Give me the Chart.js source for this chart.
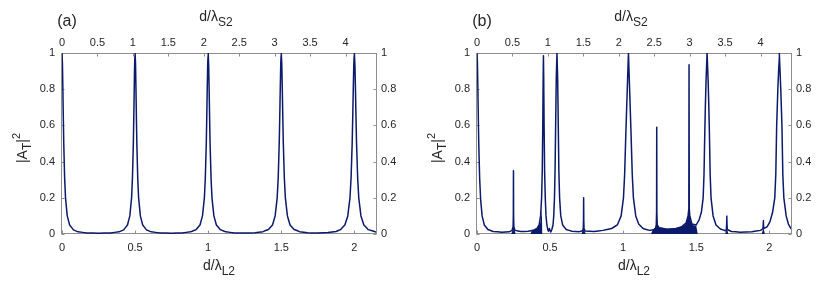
<!DOCTYPE html>
<html><head><meta charset="utf-8">
<script src="https://cdn.jsdelivr.net/npm/chart.js@4"></script>
<style>
html,body{margin:0;padding:0;background:#fff;}
#wrap{position:relative;width:830px;height:288px;overflow:hidden;}
.p{position:absolute;top:0;width:415px;height:288px;}
canvas{display:block;}
</style></head><body>
<div id="wrap">
<div class="p" style="left:0"><canvas id="ca" width="415" height="288"></canvas></div>
<div class="p" style="left:415px"><canvas id="cb" width="415" height="288"></canvas></div>
</div>
<script>
// ---- tick values / labels ----
const xTicksL2 = [0, 0.5, 1, 1.5, 2];
const xLabelsL2 = ['0', '0.5', '1', '1.5', '2'];
const xTicksS2 = [0, 0.5, 1, 1.5, 2, 2.5, 3, 3.5, 4];
const xLabelsS2 = ['0', '0.5', '1', '1.5', '2', '2.5', '3', '3.5', '4'];
const yTicks = [0, 0.2, 0.4, 0.6, 0.8, 1];
const yLabels = ['0', '0.2', '0.4', '0.6', '0.8', '1'];
const xMaxL2 = 2.148;
const xMaxS2 = 4.43;
const panelLabels = ['(a)', '(b)'];

// ---- panel (a): |A_T|^2 vs d/lambda_L2 ----
const curveA = [
[0,1],[0.003,0.94],[0.006,0.8],[0.009,0.64],[0.012,0.5],[0.018,0.31],[0.024,0.2],[0.036,0.1],[0.052,0.05],[0.078,0.023],[0.11,0.012],[0.17,0.006],[0.25,0.004],
[0.33,0.006],[0.39,0.012],[0.422,0.023],[0.448,0.05],[0.464,0.1],[0.476,0.2],[0.482,0.31],[0.488,0.5],[0.491,0.64],[0.494,0.8],[0.497,0.94],[0.5,1],
[0.503,0.94],[0.506,0.8],[0.509,0.64],[0.512,0.5],[0.518,0.31],[0.524,0.2],[0.536,0.1],[0.552,0.05],[0.578,0.023],[0.61,0.012],[0.67,0.006],[0.75,0.004],
[0.82,0.006],[0.88,0.012],[0.917,0.024],[0.944,0.05],[0.961,0.1],[0.974,0.2],[0.98,0.3],[0.987,0.5],[0.99,0.63],[0.9935,0.8],[0.9965,0.93],[1.0,1],
[1.0035,0.93],[1.0065,0.8],[1.01,0.63],[1.013,0.5],[1.02,0.3],[1.026,0.2],[1.039,0.1],[1.056,0.05],[1.083,0.024],[1.12,0.012],[1.18,0.006],[1.25,0.005],
[1.32,0.007],[1.375,0.013],[1.412,0.025],[1.44,0.05],[1.458,0.1],[1.472,0.2],[1.479,0.31],[1.486,0.5],[1.4895,0.64],[1.493,0.8],[1.4965,0.94],[1.5,1],
[1.5035,0.94],[1.507,0.8],[1.5105,0.64],[1.514,0.5],[1.521,0.31],[1.528,0.2],[1.542,0.1],[1.56,0.05],[1.588,0.025],[1.625,0.013],[1.68,0.007],[1.75,0.005],
[1.82,0.008],[1.875,0.014],[1.905,0.024],[1.935,0.05],[1.955,0.1],[1.97,0.2],[1.9775,0.31],[1.985,0.5],[1.989,0.65],[1.9925,0.8],[1.996,0.93],[2.0,1],
[2.004,0.93],[2.0075,0.8],[2.011,0.65],[2.015,0.5],[2.0225,0.31],[2.03,0.2],[2.045,0.1],[2.065,0.05],[2.095,0.024],[2.148,0.011]
];

// ---- panel (b): main curve ----
const curveB = [
[0,1],[0.003,0.94],[0.006,0.8],[0.009,0.64],[0.012,0.5],[0.018,0.31],[0.025,0.19],[0.035,0.1],[0.05,0.05],[0.075,0.025],[0.11,0.014],[0.17,0.01],[0.22,0.012],
[0.24,0.02],[0.247,0.04],[0.2485,0.1],[0.2495,0.35],[0.2505,0.1],[0.252,0.04],[0.26,0.02],[0.3,0.014],[0.35,0.015],[0.39,0.022],[0.41,0.03],[0.425,0.05],
[0.435,0.1],[0.442,0.2],[0.4465,0.35],[0.45,0.6],[0.4525,0.85],[0.4545,0.985],[0.4565,0.85],[0.459,0.6],[0.4625,0.35],[0.467,0.2],[0.472,0.1],[0.478,0.05],
[0.484,0.025],[0.489,0.015],[0.495,0.03],[0.5,0.02],[0.505,0.012],[0.512,0.025],[0.52,0.05],[0.525,0.1],[0.53,0.2],[0.534,0.35],[0.538,0.6],[0.542,0.85],
[0.547,1],[0.552,0.85],[0.556,0.6],[0.56,0.35],[0.565,0.2],[0.573,0.1],[0.586,0.05],[0.61,0.025],[0.65,0.015],[0.7,0.013],[0.722,0.018],[0.727,0.03],
[0.7285,0.08],[0.7295,0.2],[0.7305,0.08],[0.732,0.03],[0.74,0.016],[0.8,0.014],[0.86,0.02],[0.92,0.03],[0.96,0.05],[0.986,0.1],[1.002,0.2],[1.01,0.33],
[1.018,0.55],[1.024,0.7],[1.03,0.85],[1.036,1],[1.042,0.85],[1.048,0.7],[1.054,0.55],[1.062,0.33],[1.07,0.2],[1.086,0.1],[1.106,0.055],[1.136,0.03],
[1.18,0.02],[1.215,0.025],[1.226,0.04],[1.2285,0.12],[1.2295,0.59],[1.2305,0.12],[1.233,0.05],[1.245,0.035],[1.3,0.025],[1.36,0.03],[1.4,0.04],[1.43,0.06],
[1.444,0.1],[1.449,0.14],[1.4505,0.935],[1.452,0.14],[1.456,0.1],[1.47,0.055],[1.5,0.05],[1.52,0.08],[1.535,0.12],[1.547,0.2],[1.553,0.33],[1.558,0.55],
[1.562,0.7],[1.567,0.85],[1.574,1],[1.581,0.85],[1.586,0.7],[1.59,0.55],[1.595,0.33],[1.601,0.2],[1.615,0.1],[1.635,0.05],[1.665,0.028],[1.7,0.018],
[1.706,0.025],[1.708,0.06],[1.709,0.1],[1.71,0.06],[1.712,0.025],[1.74,0.014],[1.8,0.01],[1.88,0.012],[1.94,0.02],[1.956,0.03],[1.958,0.05],[1.959,0.075],
[1.96,0.05],[1.962,0.03],[1.985,0.04],[2.005,0.07],[2.022,0.12],[2.037,0.2],[2.044,0.33],[2.05,0.6],[2.058,0.8],[2.068,1],[2.078,0.8],[2.086,0.6],
[2.092,0.33],[2.099,0.2],[2.115,0.1],[2.13,0.055],[2.148,0.03]
];

// ---- panel (b): envelope of the dense fast oscillations (filled to zero) ----
const bandB = [
[0,0],[0.235,0],[0.242,0.02],[0.247,0.032],[0.25,0.036],[0.253,0.032],[0.258,0.02],[0.265,0],
[0.365,0],[0.375,0.018],[0.4,0.026],[0.42,0.038],[0.432,0.06],[0.44,0.1],[0.444,0.14],[0.447,0],
[0.715,0],[0.721,0.016],[0.729,0.024],[0.737,0.016],[0.743,0],
[1.19,0],[1.205,0.026],[1.218,0.035],[1.226,0.055],[1.23,0.07],[1.236,0.05],[1.25,0.036],[1.3,0.03],[1.36,0.032],[1.4,0.04],[1.425,0.052],[1.437,0.075],
[1.445,0.115],[1.45,0.14],[1.456,0.115],[1.462,0.07],[1.475,0.05],[1.5,0.045],[1.51,0],
[1.698,0],[1.704,0.018],[1.709,0.03],[1.714,0.018],[1.72,0],
[1.948,0],[1.954,0.02],[1.959,0.032],[1.964,0.02],[1.97,0],[2.148,0]
];

const LINE = '#0b1a6b';
const AXIS = '#8f8f8f';
const TXT = '#262626';
const FAM = "'Liberation Sans', Arial, Helvetica, sans-serif";

Chart.defaults.font.family = FAM;
Chart.defaults.font.size = 11;
Chart.defaults.color = TXT;

function pts(arr){ return arr.map(p => ({x: p[0], y: p[1]})); }

function drawParts(ctx, parts, x, y){
  let w = 0;
  parts.forEach(p => { ctx.font = p[1] + 'px ' + FAM; w += ctx.measureText(p[0]).width; });
  let cx = x - w / 2;
  ctx.textAlign = 'left';
  ctx.textBaseline = 'alphabetic';
  parts.forEach(p => {
    ctx.font = p[1] + 'px ' + FAM;
    ctx.fillText(p[0], cx, y + p[2]);
    cx += ctx.measureText(p[0]).width;
  });
}

function makeDeco(label){
  return {
    id: 'deco',
    beforeDatasetsDraw(chart){
      const {ctx, chartArea: a, scales} = chart;
      const L = a.left - 0.5, R = a.right + 0.5, T = a.top + 0.5, B = a.bottom - 0.5;
      ctx.save();
      ctx.strokeStyle = AXIS; ctx.lineWidth = 1;
      ctx.strokeRect(L, T, R - L, B - T);
      ctx.beginPath();
      const tl = 3;
      xTicksL2.forEach(v => { const px = Math.round(scales.x.getPixelForValue(v)) + 0.5; ctx.moveTo(px, B); ctx.lineTo(px, B - tl); });
      xTicksS2.forEach(v => { const px = Math.round(scales.x2.getPixelForValue(v)) + 0.5; ctx.moveTo(px, T); ctx.lineTo(px, T + tl); });
      yTicks.forEach(v => { const py = Math.round(scales.y.getPixelForValue(v)) + 0.5; ctx.moveTo(L, py); ctx.lineTo(L + tl, py); });
      yTicks.forEach(v => { const py = Math.round(scales.y2.getPixelForValue(v)) + 0.5; ctx.moveTo(R, py); ctx.lineTo(R - tl, py); });
      ctx.stroke();
      ctx.restore();
    },
    afterDraw(chart){
      const {ctx, chartArea: a} = chart;
      const cx = (a.left + a.right) / 2;
      ctx.save();
      ctx.fillStyle = TXT;
      ctx.font = '16px ' + FAM; ctx.textAlign = 'center'; ctx.textBaseline = 'alphabetic';
      ctx.fillText(label, 67, 26);
      drawParts(ctx, [['d/\u03BB', 14, 0], ['S2', 12, 5]], cx - 3, 21);
      drawParts(ctx, [['d/\u03BB', 14, 0], ['L2', 12, 5]], cx, 270);
      ctx.translate(27, 148);
      ctx.rotate(-Math.PI / 2);
      drawParts(ctx, [['|A', 14, 0], ['T', 12, 4], ['|', 14, 0], ['2', 11, -7]], 0, 0);
      ctx.restore();
    }
  };
}

// A tiny tension makes Chart.js use its regular path renderer instead of the
// per-pixel "fast path" (which collapses points sharing a pixel column and
// leaves artefacts on the very narrow resonance peaks). Segments stay straight.
const LINE_OPTS = {tension: 0.0001, cubicInterpolationMode: 'default', borderJoinStyle: 'round', borderCapStyle: 'round'};

function makeChart(id, datasets, label){
  const tickCfg = (labs, pad) => ({
    padding: pad, autoSkip: false, maxRotation: 0, minRotation: 0, color: TXT,
    font: {size: 11, family: FAM},
    callback: (v, i) => labs[i]
  });
  return new Chart(document.getElementById(id), {
    type: 'line',
    data: {datasets},
    options: {
      responsive: false, animation: false, devicePixelRatio: 1,
      layout: {padding: 0},
      plugins: {legend: {display: false}, tooltip: {enabled: false}},
      elements: {point: {radius: 0}, line: LINE_OPTS},
      scales: {
        x: {type: 'linear', position: 'bottom', min: 0, max: xMaxL2,
            afterBuildTicks: s => { s.ticks = xTicksL2.map(v => ({value: v})); },
            afterFit: s => { s.height = 54; },
            ticks: tickCfg(xLabelsL2, 7),
            grid: {display: false, drawTicks: false}, border: {display: false}},
        x2: {type: 'linear', position: 'top', min: 0, max: xMaxS2,
            afterBuildTicks: s => { s.ticks = xTicksS2.map(v => ({value: v})); },
            afterFit: s => { s.height = 53; },
            ticks: tickCfg(xLabelsS2, 3),
            grid: {display: false, drawTicks: false}, border: {display: false}},
        y: {type: 'linear', position: 'left', min: 0, max: 1,
            afterBuildTicks: s => { s.ticks = yTicks.map(v => ({value: v})); },
            afterFit: s => { s.width = 62; },
            ticks: tickCfg(yLabels, 7),
            grid: {display: false, drawTicks: false}, border: {display: false}},
        y2: {type: 'linear', position: 'right', min: 0, max: 1,
            afterBuildTicks: s => { s.ticks = yTicks.map(v => ({value: v})); },
            afterFit: s => { s.width = 39; },
            ticks: tickCfg(yLabels, 5),
            grid: {display: false, drawTicks: false}, border: {display: false}}
      }
    },
    plugins: [makeDeco(label)]
  });
}

makeChart('ca', [
  Object.assign({data: pts(curveA), borderColor: LINE, borderWidth: 1.5, pointRadius: 0, fill: false, xAxisID: 'x', yAxisID: 'y'}, LINE_OPTS)
], panelLabels[0]);

makeChart('cb', [
  Object.assign({data: pts(bandB), borderColor: 'rgba(0,0,0,0)', borderWidth: 0, backgroundColor: LINE, pointRadius: 0, fill: 'origin', xAxisID: 'x', yAxisID: 'y'}, LINE_OPTS),
  Object.assign({data: pts(curveB), borderColor: LINE, borderWidth: 1.5, pointRadius: 0, fill: false, xAxisID: 'x', yAxisID: 'y'}, LINE_OPTS)
], panelLabels[1]);
</script>
</body></html>
